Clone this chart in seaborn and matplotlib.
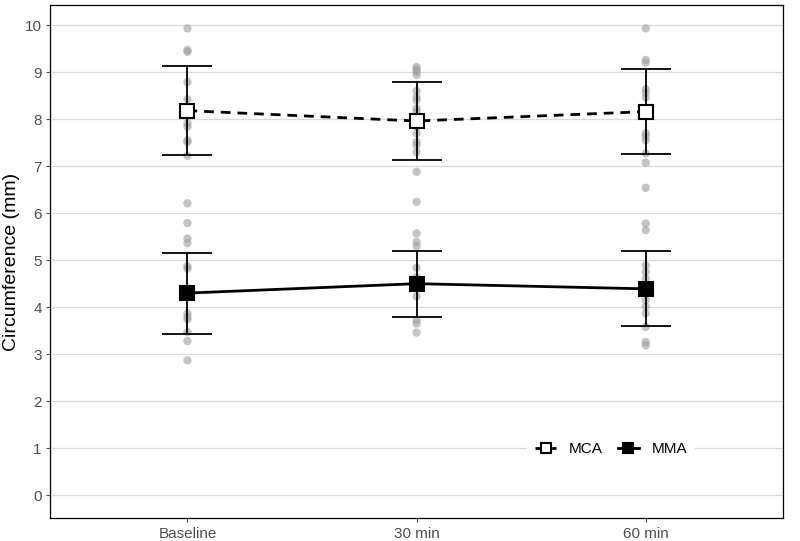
import numpy as np
import matplotlib
matplotlib.use("Agg")
import matplotlib.pyplot as plt
import pandas as pd
import seaborn as sns

# categories
times = ['Baseline', '30 min', '60 min']
vessels = ['MCA', 'MMA']

mca_baseline = [9.93, 9.47, 9.43, 8.79, 8.42, 7.91, 7.84, 7.55, 7.51, 7.22]
mca_30 = [9.11, 9.06, 9.01, 8.94, 8.60, 8.47, 8.40, 8.23, 8.16, 7.84, 7.70,
          7.52, 7.45, 7.30, 6.88, 6.24]
mca_60 = [9.93, 9.26, 9.20, 8.64, 8.56, 8.46, 7.70, 7.64, 7.55, 7.27, 7.07,
          6.54]
mma_baseline = [6.21, 5.79, 5.46, 5.36, 4.87, 4.82, 3.87, 3.79, 3.74, 3.47,
                3.28, 2.87]
mma_30 = [5.57, 5.39, 5.30, 4.84, 4.64, 4.23, 3.72, 3.65, 3.46]
mma_60 = [5.78, 5.64, 4.89, 4.75, 4.61, 4.15, 4.01, 3.87, 3.58, 3.26, 3.19]

# group means and error bar half widths
mca_mean = [8.18, 7.96, 8.16]
mca_err = [0.95, 0.84, 0.90]
mma_mean = [4.30, 4.50, 4.39]
mma_err = [0.86, 0.70, 0.80]

rows = []
for vessel, groups in [('MCA', [mca_baseline, mca_30, mca_60]),
                       ('MMA', [mma_baseline, mma_30, mma_60])]:
    for i, vals in enumerate(groups):
        for v in vals:
            rows.append({'vessel': vessel, 'time': times[i], 'pos': i, 'value': v})
points = pd.DataFrame(rows)

summary = pd.DataFrame({
    'vessel': ['MCA'] * 3 + ['MMA'] * 3,
    'pos': [0, 1, 2] * 2,
    'mean': mca_mean + mma_mean,
    'err': mca_err + mma_err,
})

plt.rcParams['font.family'] = ['Liberation Sans', 'DejaVu Sans']
fig, ax = plt.subplots(figsize=(8, 5.41), dpi=100)
fig.subplots_adjust(left=0.0625, right=0.979, top=0.991, bottom=0.042)

sns.scatterplot(data=points, x='pos', y='value', color='#9e9e9e', alpha=0.6,
                s=36, edgecolor='none', ax=ax, zorder=2, legend=False)

styles = {
    'MCA': dict(face='white', dashes=(3.5, 2.5)),
    'MMA': dict(face='black', dashes=None),
}
handles = []
for vessel in vessels:
    d = summary[summary.vessel == vessel]
    ax.errorbar(d['pos'], d['mean'], yerr=d['err'], fmt='none', ecolor='black',
                elinewidth=1.3, capsize=18, capthick=1.3, zorder=3)
    kw = {}
    if styles[vessel]['dashes'] is not None:
        kw['dashes'] = styles[vessel]['dashes']
    line, = ax.plot(d['pos'], d['mean'], color='black', lw=2, marker='s',
                    markersize=9.5, markerfacecolor=styles[vessel]['face'],
                    markeredgecolor='black', markeredgewidth=1.5, zorder=4,
                    label=vessel, **kw)
    handles.append(line)

ax.set_xlim(-0.6, 2.6)
ax.set_ylim(-0.49, 10.43)
ax.set_xticks([0, 1, 2])
ax.set_xticklabels(times)
ax.set_yticks(range(0, 11))
ax.set_xlabel('')
ax.set_ylabel('Circumference (mm)', fontsize=14, color='black', labelpad=3)
ax.tick_params(axis='both', colors='#4d4d4d', labelsize=11, length=3,
               width=0.8, labelcolor='#4d4d4d', pad=3)
ax.yaxis.grid(True, color='#d9d9d9', lw=0.9, zorder=0)
ax.xaxis.grid(False)
ax.set_axisbelow(True)
for s in ax.spines.values():
    s.set_color('black')
    s.set_linewidth(0.9)

leg = ax.legend(handles=handles, labels=vessels, loc='center',
                bbox_to_anchor=(0.765, 0.134), ncol=2, frameon=True,
                fontsize=11, handlelength=1.4, columnspacing=1.0,
                handletextpad=0.8, borderpad=0.5, markerscale=0.8)
leg.get_frame().set_facecolor('white')
leg.get_frame().set_edgecolor('none')
leg.get_frame().set_alpha(1)

fig.savefig('out.png', dpi=100)
